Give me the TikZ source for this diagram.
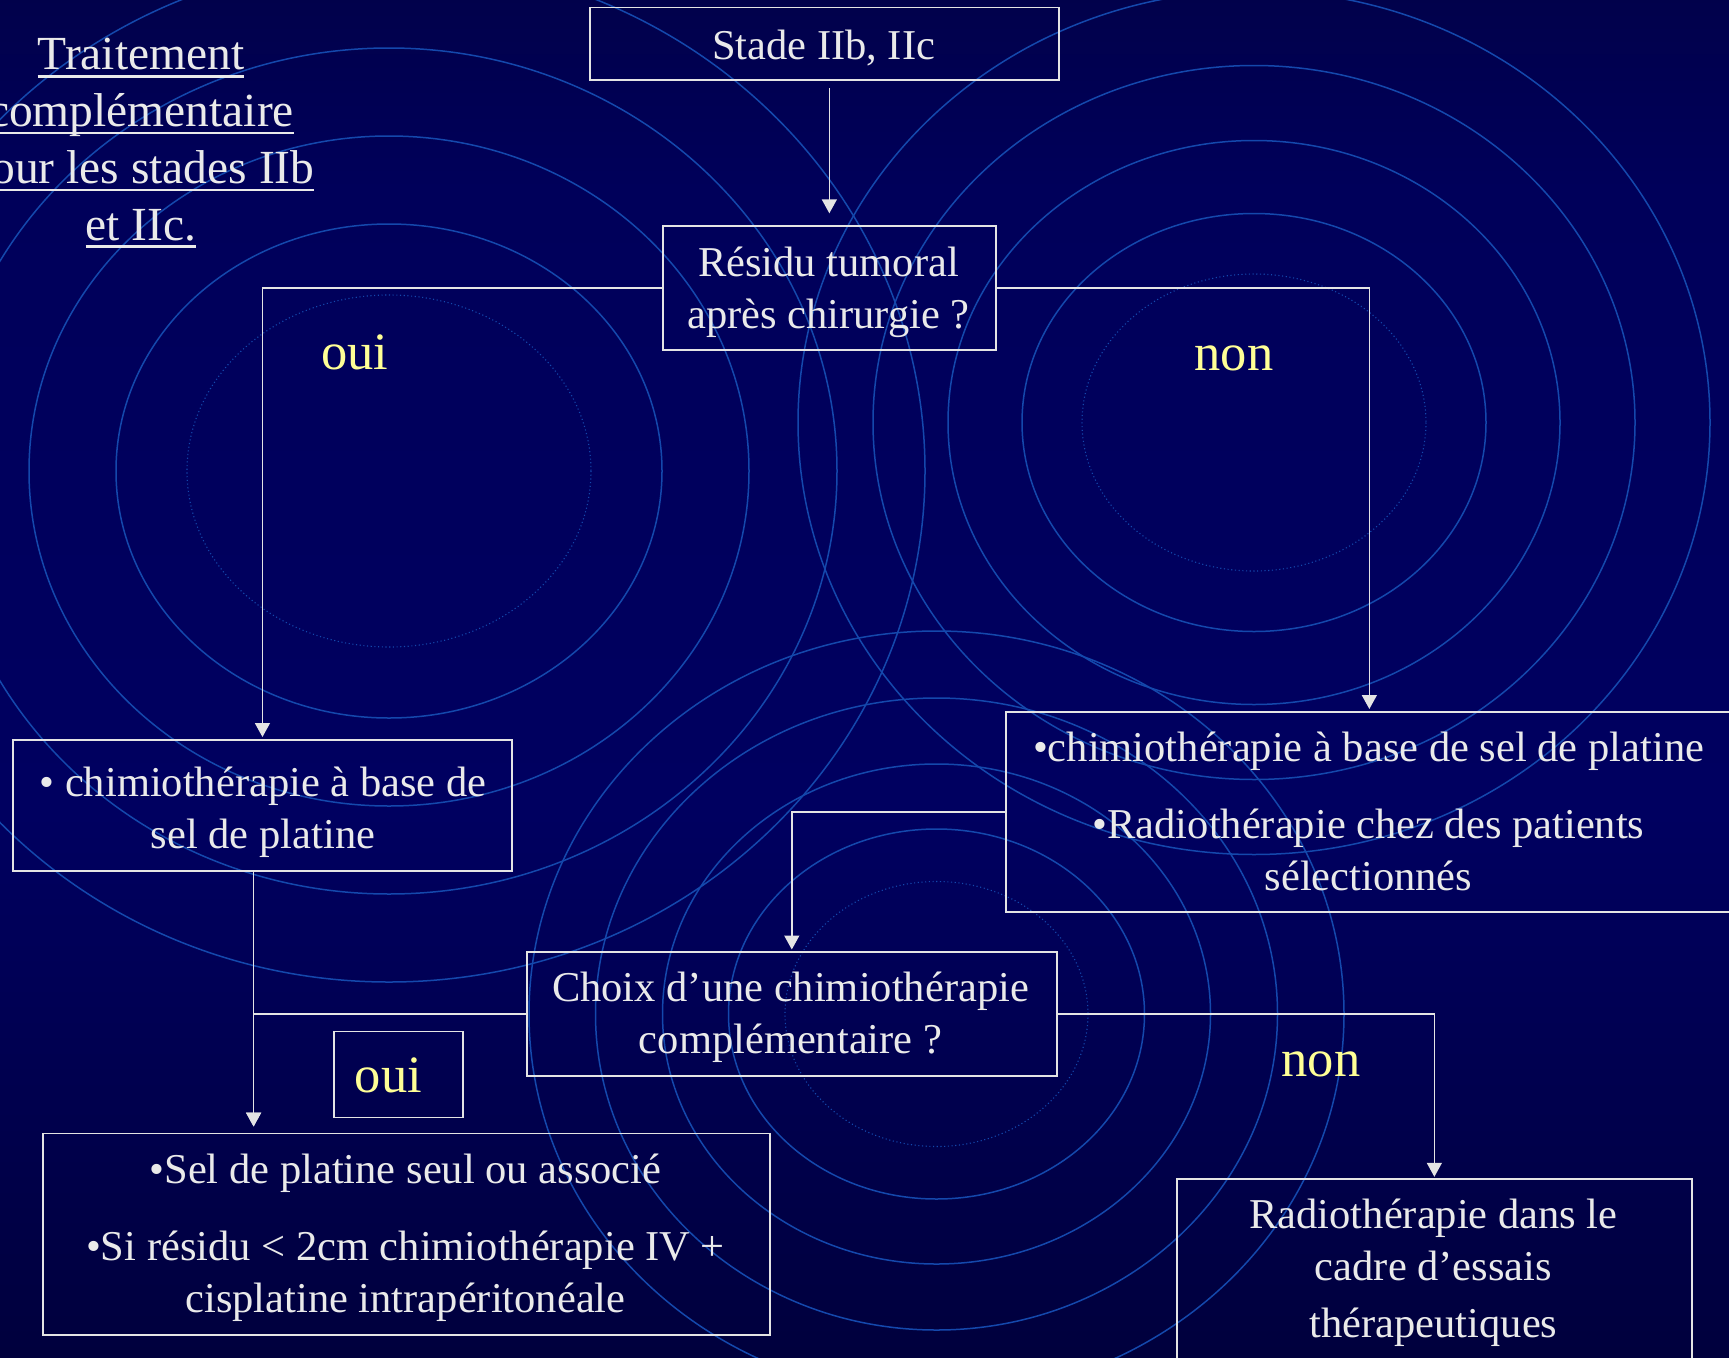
\documentclass[tikz,border=0pt]{standalone}
\usepackage{fontspec}
\setmainfont{Liberation Serif}
\usetikzlibrary{arrows.meta}

\definecolor{ringc}{RGB}{20,72,172}
\definecolor{linec}{RGB}{228,228,228}
\definecolor{txtc}{RGB}{234,234,234}
\definecolor{yel}{RGB}{255,255,150}
\definecolor{bgA}{RGB}{0,0,16}
\definecolor{bgB}{RGB}{0,0,52}
\definecolor{bgC}{RGB}{0,0,96}
\definecolor{bgD}{RGB}{0,0,90}
\definecolor{bgE}{RGB}{2,2,48}
\definecolor{bgF}{RGB}{4,4,20}

\pgfdeclareverticalshading{bgshade}{100bp}{color(0bp)=(bgA); color(20bp)=(bgB); color(45bp)=(bgC); color(68bp)=(bgD); color(88bp)=(bgE); color(100bp)=(bgF)}

\newlength\myulw
\newcommand\ulx[1]{\settowidth\myulw{#1}\rlap{\rule[-7.8pt]{\myulw}{2.5pt}}#1}

\begin{document}
\begin{tikzpicture}[x=1pt,y=-1pt,
  ring/.style={draw=ringc, line width=1.5pt},
  ringdot/.style={draw=ringc, line width=1.1pt, dash pattern=on 1.1pt off 2.6pt},
  box/.style={draw=linec, line width=1.7pt, inner sep=0pt},
  txt/.style={text=txtc, font=\fontsize{42.5}{51.6}\selectfont, inner sep=0pt, align=center},
  ttl/.style={text=txtc, font=\fontsize{47.5}{56.7}\selectfont, inner sep=0pt, align=center},
  lbl/.style={text=yel, font=\fontsize{52.5}{60}\selectfont, inner sep=0pt},
  arr/.style={draw=linec, line width=1.5pt, -{Triangle[width=15pt,length=14pt]}}
]
\useasboundingbox (0,0) rectangle (1729,1357);
\fill[shading=bgshade] (0,0) rectangle (1729,1357);

% background rings
\draw[ringdot] (389,471) ellipse [x radius=202, y radius=176];
\foreach \rx/\ry in {273/247, 360/335, 448/423, 536/511}
  \draw[ring] (389,471) ellipse [x radius=\rx, y radius=\ry];
\draw[ringdot] (1254,422.5) ellipse [x radius=172, y radius=148.5];
\foreach \rx/\ry in {232/209, 306/282, 381/357, 456/432}
  \draw[ring] (1254,422.5) ellipse [x radius=\rx, y radius=\ry];
\draw[ringdot] (936.5,1014) ellipse [x radius=151.5, y radius=132.5];
\foreach \rx/\ry in {208/185, 274/250, 341/316, 407.5/383}
  \draw[ring] (936.5,1014) ellipse [x radius=\rx, y radius=\ry];

% boxes
\node[box, anchor=north west, minimum width=469.3pt, minimum height=72.6pt] (stade) at (589,6.7) {};
\node[box, anchor=north west, minimum width=333pt, minimum height=124pt] (residu) at (662,225.3) {};
\node[box, anchor=north west, minimum width=499.6pt, minimum height=131pt] (left1) at (11.8,739) {};
\node[box, anchor=north west, minimum width=727pt, minimum height=200pt] (right1) at (1005,711) {};
\node[box, anchor=north west, minimum width=530.1pt, minimum height=124pt] (choix) at (525.9,951) {};
\node[box, anchor=north west, minimum width=727pt, minimum height=201.5pt] (bl) at (42,1132.5) {};
\node[box, anchor=north west, minimum width=514.6pt, minimum height=201.7pt] (br) at (1176.2,1178.3) {};
\node[box, anchor=north west, minimum width=128.9pt, minimum height=86pt] (ouiB) at (332.9,1030.7) {};

% texts (anchor=base = baseline of the last line)
\node[ttl, anchor=base] (titre) at (141,240) {\ulx{Traitement}\\\ulx{complémentaire}\\\ulx{pour les stades IIb}\\\ulx{et IIc.}};
\node[txt, anchor=base] (stadeT) at (823.6,59.3) {Stade IIb, IIc};
\node[txt, anchor=base] (residuT) at (828.5,328.3) {Résidu tumoral\\après chirurgie ?};
\node[txt, anchor=base] (left1T) at (263,848.3) {• chimiothérapie à base de\\sel de platine};
\node[txt, anchor=base] (right1T) at (1368.5,890) {•chimiothérapie à base de sel de platine\\[25pt]•Radiothérapie chez des patients\\sélectionnés};
\node[txt, anchor=base] (choixT) at (790.5,1053.3) {Choix d’une chimiothérapie\\complémentaire ?};
\node[txt, anchor=base] (blT) at (405.5,1312) {•Sel de platine seul ou associé\\[25pt]•Si résidu < 2cm chimiothérapie IV +\\cisplatine intrapéritonéale};
\node[txt, anchor=base] (brT) at (1433.5,1337) {Radiothérapie dans le\\cadre d’essais\\[5pt]thérapeutiques};
\node[lbl, anchor=base] (ouiT) at (388.4,1092.7) {oui};
\node[lbl, anchor=base] (ouiL) at (355,369.5) {oui};
\node[lbl, anchor=base] (nonL) at (1234,370.6) {non};
\node[lbl, anchor=base] (nonL2) at (1321,1076) {non};

% connectors
\coordinate (jL) at (253.6,1013);
\draw[arr, shorten <=7.4pt, shorten >=12pt] (stade.south -| residu.north) -- (residu.north);
\draw[arr, shorten >=2pt] (residu.west) -| (left1.north);
\draw[arr, shorten >=2pt] (residu.east) -| (right1.north);
\draw[arr, shorten >=6pt] (left1.south -| jL) -- (jL |- bl.north);
\draw[arr, shorten >=6pt] (choix.west) -| (jL |- bl.north);
\draw[arr, shorten >=1.5pt] (right1.west) -| (choix.north);
\draw[arr, shorten >=1.5pt] (choix.east) -| (br.north);
\end{tikzpicture}
\end{document}
